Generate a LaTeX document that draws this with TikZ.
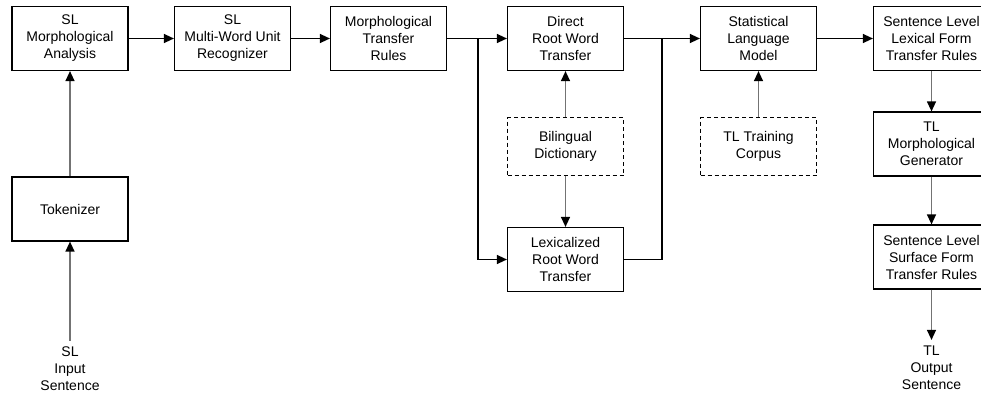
\documentclass[tikz,border=0pt]{standalone}
\usepackage{fontspec}
\setmainfont{Liberation Sans}
\usepackage{tikz}
\usetikzlibrary{arrows.meta}

\begin{document}
\begin{tikzpicture}[x=1pt,y=-1pt]
    \newcommand{\boxfont}[0]{\fontsize{14}{17}\selectfont}
    \tikzstyle{dedge} = [line width=1.3pt,-{Triangle[length=10pt,width=9pt]},draw=black]
    \tikzstyle{plain} = [line width=1.3pt,draw=black]
    \tikzstyle{gedge} = [line width=1.3pt,-{Triangle[length=10pt,width=9pt,color=black]},draw=black!55]
    \tikzstyle{stage}=[
      draw,
      line width=1.2pt,
      minimum width=116pt,
      minimum height=64pt,
      inner sep=0pt,
      align=center,
      font=\boxfont,
    ]
    \tikzstyle{resource}=[
      stage,
      dashed,
      dash pattern=on 4pt off 3pt,
      minimum height=58pt,
    ]
    \tikzstyle{label}=[
      align=center,
      inner sep=6pt,
      font=\boxfont,
    ]

    \useasboundingbox (0,0) rectangle (981,396);
    \clip (0,0) rectangle (981,396);

    % top row
    \node[stage] (sl morph) at (70,38.5) {SL\\Morphological\\Analysis};
    \node[stage] (mwu) at (232.5,38.5) {SL\\Multi-Word Unit\\Recognizer};
    \node[stage] (morph rules) at (388.5,38.5) {Morphological\\Transfer\\Rules};
    \node[stage] (direct) at (565.5,38.5) {Direct\\Root Word\\Transfer};
    \node[stage] (slm) at (758.5,38.5) {Statistical\\Language\\Model};
    \node[stage] (lexical rules) at (931.5,38.5) {Sentence Level\\Lexical Form\\Transfer Rules};

    % lower boxes
    \node[stage] (tokenizer) at (70,209) {Tokenizer};
    \node[resource] (dictionary) at (565.5,146.5) {Bilingual\\Dictionary};
    \node[resource] (corpus) at (758.5,146.5) {TL Training\\Corpus};
    \node[stage] (lexicalized) at (565.5,259.5) {Lexicalized\\Root Word\\Transfer};
    \node[stage] (generator) at (931.5,144) {TL\\Morphological\\Generator};
    \node[stage] (surface rules) at (931.5,257) {Sentence Level\\Surface Form\\Transfer Rules};

    \node[label] (input) at (70,369) {SL\\Input\\Sentence};
    \node[label] (output) at (931.5,368) {TL\\Output\\Sentence};

    \coordinate (split) at (478,38.5);
    \coordinate (merge) at (662,38.5);

    \draw[gedge] (input)--(tokenizer);
    \draw[gedge] (tokenizer)--(sl morph);
    \draw[dedge] (sl morph)--(mwu);
    \draw[dedge] (mwu)--(morph rules);
    \draw[plain] (morph rules)--(split);
    \draw[dedge] (split)--(direct);
    \draw[dedge] (split) |- (lexicalized);
    \draw[gedge] (dictionary)--(direct);
    \draw[gedge] (dictionary)--(lexicalized);
    \draw[plain] (direct)--(merge);
    \draw[plain] (lexicalized) -| (merge);
    \draw[dedge] (merge)--(slm);
    \draw[gedge] (corpus)--(slm);
    \draw[dedge] (slm)--(lexical rules);
    \draw[gedge] (lexical rules)--(generator);
    \draw[gedge] (generator)--(surface rules);
    \draw[gedge] (surface rules)--(output);
  \end{tikzpicture}
\end{document}
